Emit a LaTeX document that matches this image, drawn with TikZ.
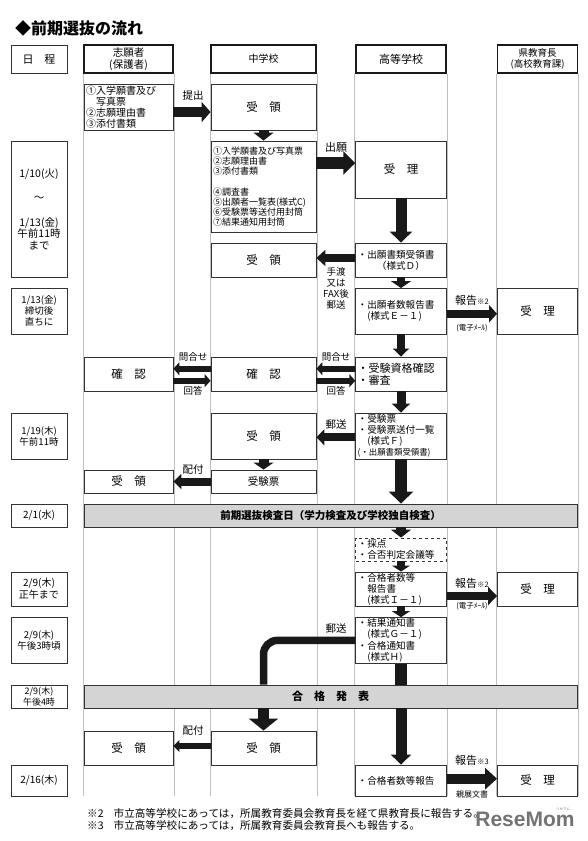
\documentclass[tikz,border=0pt]{standalone}
\usepackage{fontspec}
\setmainfont{Noto Sans CJK JP}
\newfontfamily\heavyfont{Noto Sans CJK JP Black}
\newfontfamily\logofont{Liberation Sans}
\usetikzlibrary{arrows.meta}
\newcommand{\fs}[1]{\fontsize{#1}{1.15em}\selectfont}
\begin{document}
\begin{tikzpicture}[
      x=1pt, y=-1pt,
      box/.style={draw=black!80, rectangle, line width=0.9pt, inner sep=0pt, font=\fs{11.5}, align=center},
      headbox/.style={box, draw=black!90, line width=1.8pt, minimum height=28pt},
      datebox/.style={box, minimum width=56pt, font=\fs{10}},
      appl/.style={box, minimum width=89pt},
      jrhigh/.style={box, minimum width=105pt},
      senior/.style={box, minimum width=90.6pt},
      board/.style={box, minimum width=80pt},
      notes/.style={box, align=left, text width=#1, inner xsep=2pt, font=\fontsize{9.6}{11}\selectfont},
      band/.style={box, fill=black!17, minimum width=493pt, minimum height=23pt, font=\heavyfont\fs{10.5}},
      lane/.style={draw=black!25, line width=0.8pt},
      flow/.style n args={3}{-{Triangle[length=#3,width=#2]}, line width=#1, black!90},
      tag/.style={inner sep=0pt, align=center, font=\fontsize{9.5}{11}\selectfont},
    ]
    \useasboundingbox (0,0) rectangle (587,841);
    \node[inner sep=0pt, anchor=west, font=\heavyfont\fs{16}] (title) at (15,28) {◆前期選抜の流れ};
    \node[datebox, draw=black!80, line width=1pt, minimum height=28pt, font=\fs{11}] (sched) at (39,59) {日　程};
    \node[headbox, minimum width=89pt, font=\fontsize{10.5}{12}\selectfont] (app) at (128.5,59) {志願者\\(保護者)};
    \node[headbox, minimum width=105pt, font=\fs{10}] (jhs) at (263.5,59) {中学校};
    \node[headbox, minimum width=90.6pt, font=\fs{11}] (hs) at (401,59) {高等学校};
    \node[headbox, minimum width=80pt, font=\fontsize{9.5}{10.5}\selectfont] (brd) at (537.5,59) {県教育長\\(高校教育課)};
    \coordinate (bot) at (0,796);
    \draw[lane] (app.south west) -- (app.south west |- bot);
    \draw[lane] (app.south east) -- (app.south east |- bot);
    \draw[lane] (jhs.south west) -- (jhs.south west |- bot);
    \draw[lane] (jhs.south east) -- (jhs.south east |- bot);
    \draw[lane] (hs.south west) -- (hs.south west |- bot);
    \draw[lane] (hs.south east) -- (hs.south east |- bot);
    \draw[lane] (brd.south west) -- (brd.south west |- bot);
    \draw[lane] (brd.south east) -- (brd.south east |- bot);
    \node[datebox, minimum height=136pt, font=\fs{10.5}] (d1) at (39,209) {1/10(火)\\[13pt]～\\[13pt]1/13(金)\\午前11時\\まで};
    \node[datebox, minimum height=45.5pt, font=\fontsize{9.5}{11}\selectfont] (d2) at (39,311.25) {1/13(金)\\締切後\\直ちに};
    \node[datebox, minimum height=46pt, font=\fontsize{9.5}{11}\selectfont] (d3) at (39,436) {1/19(木)\\午前11時};
    \node[datebox, minimum height=23pt] (d4) at (39,515.5) {2/1(水)};
    \node[datebox, minimum height=34pt, font=\fontsize{10}{12}\selectfont] (d5) at (39,589) {2/9(木)\\正午まで};
    \node[datebox, minimum height=45.5pt, font=\fontsize{9.5}{11.5}\selectfont] (d6) at (39,640.35) {2/9(木)\\午後3時頃};
    \node[datebox, minimum height=23pt, font=\fontsize{9}{11}\selectfont] (d7) at (39,696.5) {2/9(木)\\午後4時};
    \node[datebox, minimum height=31pt] (d8) at (39,780.5) {2/16(木)};
    \node[notes=85pt, minimum height=45.5pt, font=\fontsize{10}{11}\selectfont] (appdoc) at (128.5,107.25) {①入学願書及び\\　写真票\\②志願理由書\\③添付書類};
    \node[jrhigh, minimum height=45.5pt] (jrecv) at (263.5,107.25) {受　領};
    \node[notes=101pt, minimum height=91pt, font=\fontsize{9}{10.2}\selectfont] (jdoc) at (263.5,186.5) {①入学願書及び写真票\\②志願理由書\\③添付書類\\[10.2pt]④調査書\\⑤出願者一覧表(様式C)\\⑥受験票等送付用封筒\\⑦結果通知用封筒};
    \node[senior, minimum height=57pt] (accept) at (401,169.5) {受　理};
    \node[jrhigh, minimum height=34pt] (jback) at (263.5,260) {受　領};
    \node[notes=86.6pt, minimum height=34pt] (slip) at (401,260) {・出願書類受領書\\　　（様式Ｄ）};
    \node[notes=86.6pt, minimum height=45.5pt] (count) at (401,311.25) {・出願者数報告書\\　(様式Ｅ－１)};
    \node[board, minimum height=45.5pt] (brd1) at (537.5,311.25) {受　理};
    \node[appl, minimum height=34pt] (apchk) at (128.5,374) {確　認};
    \node[jrhigh, minimum height=34pt] (jchk) at (263.5,374) {確　認};
    \node[notes=86.6pt, minimum height=34pt, font=\fontsize{11}{12}\selectfont] (hchk) at (401,374) {・受験資格確認\\・審査};
    \node[jrhigh, minimum height=46pt] (jtick) at (263.5,436) {受　領};
    \node[notes=86.6pt, minimum height=46pt] (htick) at (401,436) {・受験票\\・受験票送付一覧\\　(様式Ｆ)\\{\fontsize{8.4}{11}\selectfont (・出願書類受領書)}};
    \node[appl, minimum height=23pt] (apget) at (128.5,481.5) {受　領};
    \node[jrhigh, minimum height=23pt, font=\fs{10.5}] (jcard) at (263.5,481.5) {受験票};
    \node[band] (exam) at (330.5,515.5) {前期選抜検査日（学力検査及び学校独自検査）};
    \node[notes=86.6pt, dashed, minimum height=23pt, font=\fontsize{9.6}{11.5}\selectfont] (mark) at (401,549.5) {・採点\\・合否判定会議等};
    \node[notes=86.6pt, minimum height=34pt] (pass) at (401,589) {・合格者数等\\　報告書\\　(様式Ｉ－１)};
    \node[board, minimum height=34pt] (brd2) at (537.5,589) {受　理};
    \node[notes=86.6pt, minimum height=45.5pt, font=\fontsize{9.6}{11.3}\selectfont] (notice) at (401,640.35) {・結果通知書\\　(様式Ｇ－１)\\・合格通知書\\　(様式Ｈ)};
    \node[band, font=\heavyfont\fs{11}] (ann) at (330.5,696.5) {合　格　発　表};
    \node[appl, minimum height=34pt] (apend) at (128.5,748) {受　領};
    \node[jrhigh, minimum height=34pt] (jend) at (263.5,748) {受　領};
    \node[notes=86.6pt, minimum height=31pt] (total) at (401,780.5) {・合格者数等報告};
    \node[board, minimum height=31pt] (brd3) at (537.5,780.5) {受　理};
    \draw[flow={10pt}{20pt}{9pt}] ([yshift=-28pt]appdoc.north east) -- ([yshift=-28pt]jrecv.north west);
    \draw[flow={10pt}{20pt}{8pt}] (jrecv.south) -- (jdoc.north);
    \draw[flow={12pt}{23pt}{12pt}] ([yshift=-22.5pt]jdoc.north east) -- ([yshift=-22.5pt]accept.north west);
    \draw[flow={11pt}{22pt}{11pt}] (accept.south) -- (slip.north);
    \draw[flow={8pt}{16pt}{9pt}] ([yshift=2pt]slip.west) -- ([yshift=2pt]jback.east);
    \draw[flow={8pt}{20pt}{7pt}] (slip.south) -- (count.north);
    \draw[flow={8pt}{17pt}{8pt}] ([yshift=-2.5pt]count.east) -- ([yshift=-2.5pt]brd1.west);
    \draw[flow={8pt}{16pt}{8pt}] (count.south) -- (hchk.north);
    \draw[flow={6pt}{13pt}{6pt}] ([yshift=5.3pt]hchk.west) -- ([yshift=5.3pt]jchk.east);
    \draw[flow={6pt}{13pt}{6pt}] ([yshift=-6.7pt]jchk.east) -- ([yshift=-6.7pt]hchk.west);
    \draw[flow={6pt}{13pt}{6pt}] ([yshift=5.3pt]jchk.west) -- ([yshift=5.3pt]apchk.east);
    \draw[flow={6pt}{13pt}{6pt}] ([yshift=-6.7pt]apchk.east) -- ([yshift=-6.7pt]jchk.west);
    \draw[flow={9pt}{18pt}{9pt}] (hchk.south) -- (htick.north);
    \draw[flow={8pt}{16pt}{8pt}] ([yshift=-1.3pt]htick.west) -- ([yshift=-1.3pt]jtick.east);
    \draw[flow={10pt}{20pt}{7pt}] (jtick.south) -- (jcard.north);
    \draw[flow={8pt}{15pt}{8pt}] (jcard.west) -- (apget.east);
    \draw[flow={12pt}{24pt}{12pt}] (htick.south) -- (exam.north -| htick.south);
    \draw[flow={10pt}{20pt}{8pt}] (exam.south -| mark.north) -- (mark.north);
    \draw[flow={8pt}{18pt}{6pt}] (mark.south) -- (pass.north);
    \draw[flow={8pt}{18pt}{9pt}] ([yshift=-7pt]pass.east) -- ([yshift=-7pt]brd2.west);
    \draw[flow={8pt}{18pt}{6pt}] (pass.south) -- (notice.north);
    \draw[line width=7.5pt, black!90, rounded corners=14pt] (notice.west) -| (ann.north -| jend.north);
    \draw[line width=12pt, black!90] (notice.south) -- (ann.north -| notice.south);
    \draw[flow={11pt}{29pt}{12pt}] (ann.south -| jend.north) -- (jend.north);
    \draw[flow={6pt}{12pt}{6pt}] ([yshift=2pt]jend.west) -- ([yshift=2pt]apend.east);
    \draw[flow={11pt}{20pt}{10pt}] (ann.south -| total.north) -- (total.north);
    \draw[flow={10pt}{21pt}{12pt}] ([yshift=1.8pt]total.east) -- ([yshift=1.8pt]brd3.west);
    \node[tag, font=\fs{10.5}] (t1) at (193,96) {提出};
    \node[tag, font=\fs{11}] (t2) at (336,147) {出願};
    \node[tag, font=\fontsize{9.5}{11}\selectfont] (t3) at (336,288.5) {手渡\\又は\\FAX後\\郵送};
    \node[tag, font=\fs{11}] (t4) at (472,300) {報告{\fontsize{7.5}{8}\selectfont ※2}};
    \node[tag, font=\fs{7.5}] (t5) at (472,328) {(電子ﾒｰﾙ)};
    \node[tag] (t6) at (193,357) {問合せ};
    \node[tag] (t7) at (193,391) {回答};
    \node[tag] (t8) at (336,357) {問合せ};
    \node[tag] (t9) at (336,391) {回答};
    \node[tag, font=\fs{10.5}] (t10) at (336,425) {郵送};
    \node[tag, font=\fs{10.5}] (t11) at (193,470) {配付};
    \node[tag, font=\fs{11}] (t12) at (472,583) {報告{\fontsize{7.5}{8}\selectfont ※2}};
    \node[tag, font=\fs{7.5}] (t13) at (472,606) {(電子ﾒｰﾙ)};
    \node[tag, font=\fs{10.5}] (t14) at (336,629) {郵送};
    \node[tag, font=\fs{10.5}] (t15) at (193,731) {配付};
    \node[tag, font=\fs{11}] (t16) at (472,760) {報告{\fontsize{7.5}{8}\selectfont ※3}};
    \node[tag, font=\fs{8}] (t17) at (472,794) {親展文書};
    \node[tag, anchor=west, font=\fs{10.6}] (fn2) at (87,814) {※2\hspace{10pt}市立高等学校にあっては，所属教育委員会教育長を経て県教育長に報告する。};
    \node[tag, anchor=west, font=\fs{10.6}] (fn3) at (87,826) {※3\hspace{10pt}市立高等学校にあっては，所属教育委員会教育長へも報告する。};
    \node[tag, font=\logofont\fs{21}\bfseries, text=black!55] (logo) at (525,819) {ReseMom};
    \node[tag, font=\fs{3.5}, text=black!55] (kana) at (563,809) {リセマム};
  \end{tikzpicture}
\end{document}
